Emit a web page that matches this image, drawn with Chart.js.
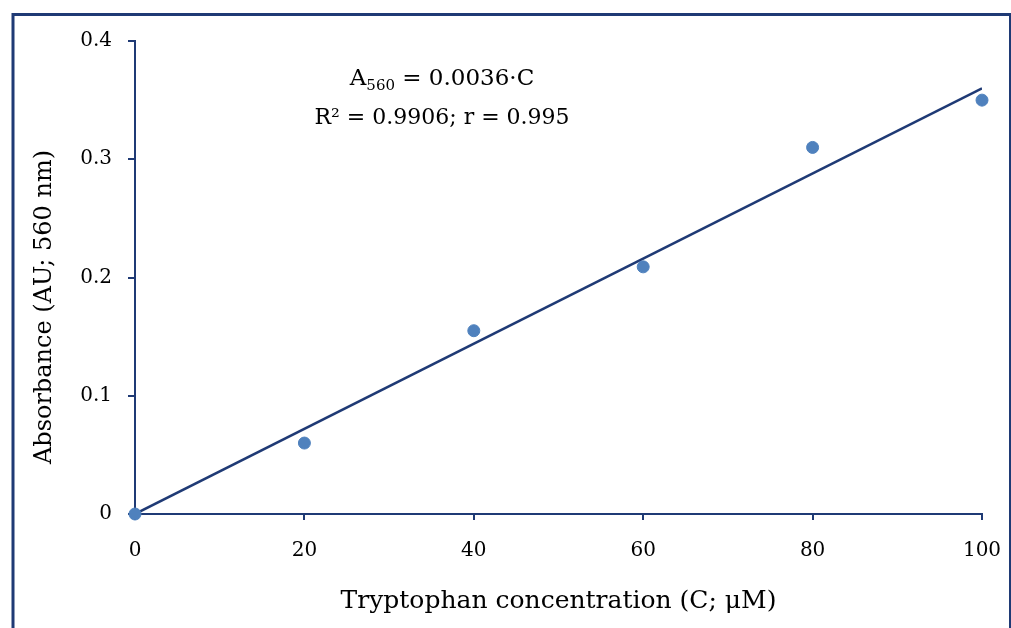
<!DOCTYPE html>
<html>
<head>
<meta charset="utf-8">
<script src="https://cdn.jsdelivr.net/npm/chart.js@4"></script>
<style>
  html, body { margin: 0; padding: 0; background: #fff; overflow: hidden; }
  #wrap { width: 1011px; height: 628px; }
</style>
</head>
<body>
<div id="wrap"><canvas id="chart"></canvas></div>
<script>
// Data
const concentrations = [0, 20, 40, 60, 80, 100];
const absorbances = [0, 0.06, 0.155, 0.209, 0.31, 0.35];
// Linear fit A560 = 0.0036*C, end points
const fitX = [0, 100];
const fitY = [0, 0.36];
const eqLine1 = ["A", "560", " = 0.0036\u00b7C"];
const eqLine2 = "R\u00b2 = 0.9906; r = 0.995";
const xTitle = "Tryptophan concentration (C; \u03bcM)";
const yTitle = "Absorbance (AU; 560 nm)";

const navy = "#1f3a75";
const dotBlue = "#4f81bd";
const serif = "'DejaVu Serif', serif";

// frame, y title and fit equation
const extras = {
  id: "extras",
  afterDraw(chart) {
    const c = chart.ctx;
    c.save();
    c.strokeStyle = navy;
    c.lineWidth = 3;
    c.strokeRect(13, 14.5, 997.5, 640);

    c.fillStyle = "#000";
    c.font = "24px " + serif;
    c.textAlign = "center";
    c.textBaseline = "middle";
    c.translate(45, 307);
    c.rotate(-Math.PI / 2);
    c.fillText(yTitle, 0, 0);
    c.restore();

    c.save();
    c.fillStyle = "#000";
    c.textBaseline = "alphabetic";
    c.textAlign = "left";
    const big = "23px " + serif, small = "15px " + serif;
    c.font = big;
    const wA = c.measureText(eqLine1[0]).width;
    const wRest = c.measureText(eqLine1[2]).width;
    c.font = small;
    const wSub = c.measureText(eqLine1[1]).width;
    let x = 442 - (wA + wSub + wRest) / 2;
    c.font = big;
    c.fillText(eqLine1[0], x, 85);
    x += wA;
    c.font = small;
    c.fillText(eqLine1[1], x, 90);
    x += wSub;
    c.font = big;
    c.fillText(eqLine1[2], x, 85);
    c.font = "22px " + serif;
    c.textAlign = "center";
    c.fillText(eqLine2, 442, 124);
    c.restore();
  }
};

const ctx = document.getElementById("chart").getContext("2d");
new Chart(ctx, {
  type: "scatter",
  data: {
    datasets: [
      {
        label: "fit",
        data: fitX.map((x, i) => ({ x: x, y: fitY[i] })),
        showLine: true,
        borderColor: navy,
        borderWidth: 2.5,
        pointRadius: 0,
        order: 2
      },
      {
        label: "Absorbance",
        data: concentrations.map((x, i) => ({ x: x, y: absorbances[i] })),
        backgroundColor: dotBlue,
        borderColor: dotBlue,
        pointRadius: 6,
        clip: false,
        order: 1
      }
    ]
  },
  options: {
    responsive: true,
    maintainAspectRatio: false,
    animation: false,
    layout: { padding: { left: 0, top: 41, right: 29, bottom: 0 } },
    plugins: { legend: { display: false }, tooltip: { enabled: false } },
    scales: {
      x: {
        type: "linear",
        min: 0, max: 100,
        ticks: { stepSize: 20, color: "#000", font: { family: serif, size: 20 }, padding: 19 },
        grid: { drawOnChartArea: false, drawTicks: true, tickLength: 6, color: navy, lineWidth: 2 },
        border: { color: navy, width: 2 },
        title: { display: true, text: xTitle, color: "#000", font: { family: serif, size: 25 }, padding: { bottom: 12 } },
        afterFit(scale) {
          scale.height = 114;
          scale.paddingLeft = 0;
          scale.paddingRight = 0;
        }
      },
      y: {
        min: 0, max: 0.4,
        ticks: { stepSize: 0.1, color: "#000", font: { family: serif, size: 20 }, padding: 16 },
        grid: { drawOnChartArea: false, drawTicks: true, tickLength: 7, color: navy, lineWidth: 2 },
        border: { color: navy, width: 2 },
        afterFit(scale) { scale.width = 135; }
      }
    }
  },
  plugins: [extras]
});
</script>
</body>
</html>
